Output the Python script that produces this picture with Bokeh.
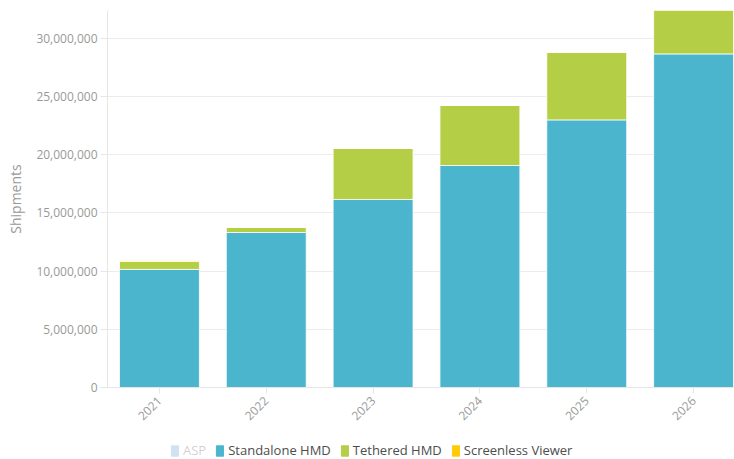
from bokeh.plotting import figure
from bokeh.layouts import column
from bokeh.models import (ColumnDataSource, Legend, LegendItem, FixedTicker,
                          NumeralTickFormatter, Range1d)
from bokeh.embed import file_html
from bokeh.resources import INLINE

years = ["2021", "2022", "2023", "2024", "2025", "2026"]
standalone = [10150000, 13320000, 16160000, 19080000, 23000000, 28670000]
tethered = [680000, 430000, 4380000, 5160000, 5800000, 5500000]
screenless = [80000, 0, 0, 0, 0, 0]
series_names = ["ASP", "Standalone HMD", "Tethered HMD", "Screenless Viewer"]

C_STAND = "#4ab5cc"
C_TETH = "#b4ce46"
C_SCREEN = "#ffcb05"
C_ASP = "#438bcb"

xs = list(range(len(years)))
source = ColumnDataSource(dict(x=xs, standalone=standalone, tethered=tethered,
                               screenless=screenless))

p = figure(width=734, height=427, output_backend="svg", toolbar_location=None,
           x_range=Range1d(-0.486, 5.383), y_range=Range1d(0, 32400000),
           min_border_left=107, min_border_right=0, min_border_top=10,
           min_border_bottom=40)
p.outline_line_color = None
p.background_fill_color = "white"
p.border_fill_color = "white"

p.vbar_stack(["standalone", "tethered", "screenless"], x="x", width=0.748,
             source=source, color=[C_STAND, C_TETH, C_SCREEN],
             line_color="white", line_width=1, line_alpha=0.8)

p.xgrid.grid_line_color = None
p.ygrid.grid_line_color = "#ececec"
p.ygrid.ticker = FixedTicker(ticks=[0, 5e6, 10e6, 15e6, 20e6, 25e6, 30e6])

p.yaxis.ticker = FixedTicker(ticks=[0, 5e6, 10e6, 15e6, 20e6, 25e6, 30e6])
p.yaxis.formatter = NumeralTickFormatter(format="0,0")
p.yaxis.axis_label = "Shipments"
for ax in (p.xaxis[0], p.yaxis[0]):
    ax.axis_line_color = "#e6e6e6"
    ax.major_tick_line_color = "#e6e6e6"
    ax.minor_tick_line_color = None
    ax.major_label_text_font = "Open Sans"
    ax.major_label_text_font_size = "12px"
    ax.major_label_text_color = "#999999"
    ax.axis_label_text_font = "Open Sans"
    ax.axis_label_text_font_style = "normal"
    ax.axis_label_text_font_size = "14px"
    ax.axis_label_text_color = "#999999"
p.yaxis.major_tick_in = 0
p.yaxis.major_tick_out = 7
p.yaxis.major_label_standoff = 3
p.yaxis.axis_label_standoff = 8

p.xaxis.ticker = FixedTicker(ticks=xs)
p.xaxis.major_label_overrides = {i: y for i, y in enumerate(years)}
p.xaxis.major_label_orientation = 0.785
p.xaxis.major_tick_in = 0
p.xaxis.major_tick_out = 6
p.xaxis.major_label_standoff = 5

# Legend strip
lg = figure(width=734, height=32, output_backend="svg", toolbar_location=None,
            x_range=Range1d(0, 1), y_range=Range1d(0, 1),
            min_border_left=0, min_border_right=0, min_border_top=0,
            min_border_bottom=0)
lg.axis.visible = False
lg.grid.visible = False
lg.outline_line_color = None
lg.border_fill_color = "white"
colors = [C_ASP, C_STAND, C_TETH, C_SCREEN]
dummies = []
for c in colors:
    r = lg.vbar(x=[5], top=[5], bottom=[4], width=0.1, fill_color=c, line_color=c,
                border_radius=2)
    dummies.append(r)
dummies[0].visible = False

legend = Legend(items=[LegendItem(label=n, renderers=[r])
                       for n, r in zip(series_names, dummies)],
                orientation="horizontal", location=(63, 0))
legend.click_policy = "hide"
legend.label_text_font = "Open Sans"
legend.label_text_font_size = "13px"
legend.label_text_color = "#4d4d4d"
legend.glyph_width = 9
legend.glyph_height = 13
legend.label_standoff = 4
legend.spacing = 9
legend.padding = 4
legend.margin = 0
legend.border_line_color = None
legend.background_fill_alpha = 0
legend.inactive_fill_alpha = 0.75
legend.inactive_fill_color = "white"
lg.add_layout(legend, "center")

layout = column(p, lg, spacing=0)
open("out.html", "w").write(file_html(layout, INLINE))
